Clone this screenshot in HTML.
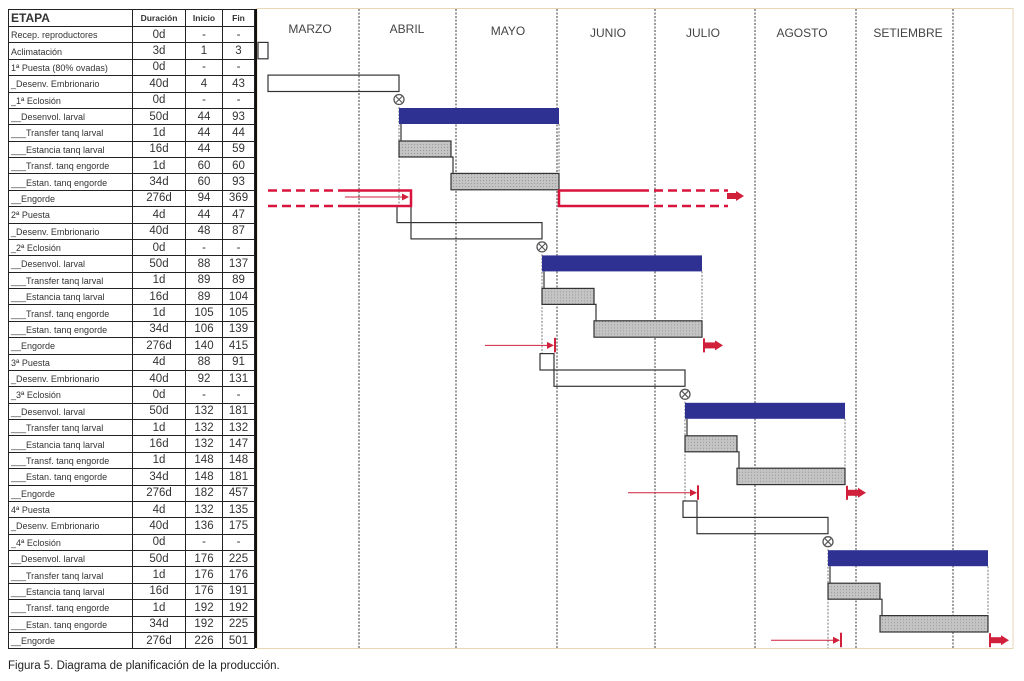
<!DOCTYPE html>
<html><head><meta charset="utf-8"><style>
body{margin:0;width:1024px;height:681px;background:#fff;overflow:hidden;position:relative;font-family:"Liberation Sans",sans-serif}
table{position:absolute;left:8px;top:9px;border-collapse:collapse;table-layout:fixed}
td{border:1px solid #222;height:15.38px;padding:0;font-size:9px;color:#333;white-space:nowrap;overflow:hidden;line-height:14px;vertical-align:middle}
td.n{text-align:center;font-size:11.5px;color:#333}
tr.h td{height:16px;font-size:8.5px;text-align:center;font-weight:bold}
tr.h td.e{font-size:12px;text-align:left;padding-left:2px}
td.l{padding-left:2px;padding-top:1px;height:14.38px}
.cap{position:absolute;left:8px;top:660px;font-size:11.5px;color:#222}
svg{position:absolute;left:0;top:0}
</style></head><body>
<svg width="1024" height="681">
<rect x="257" y="8.5" width="756" height="640" fill="none" stroke="#e6d6b4" stroke-width="1"/>
<g stroke="#666" stroke-width="1.3" stroke-dasharray="2,1.5">
<line x1="359" y1="9" x2="359" y2="648"/><line x1="456" y1="9" x2="456" y2="648"/><line x1="557" y1="9" x2="557" y2="648"/><line x1="655" y1="9" x2="655" y2="648"/><line x1="755" y1="9" x2="755" y2="648"/><line x1="856" y1="9" x2="856" y2="648"/><line x1="953" y1="9" x2="953" y2="648"/>
</g>
<g font-size="12" fill="#444" text-anchor="middle">
<text x="310" y="33">MARZO</text><text x="407" y="33">ABRIL</text><text x="508" y="35">MAYO</text><text x="608" y="37">JUNIO</text><text x="703" y="37">JULIO</text><text x="802" y="37">AGOSTO</text><text x="908" y="37">SETIEMBRE</text>
</g>
<line x1="255.5" y1="9" x2="255.5" y2="648" stroke="#111" stroke-width="3"/>
<defs>
<pattern id="h" width="3" height="3" patternUnits="userSpaceOnUse"><rect width="3" height="3" fill="#c4c4c4"/><rect width="1" height="1" fill="#9a9a9a"/></pattern>
<g id="core">
<line x1="399" y1="107" x2="399" y2="206" stroke="#777" stroke-dasharray="2,1.5"/>
<line x1="559" y1="124" x2="559" y2="190" stroke="#777" stroke-dasharray="2,1.5"/>
<rect x="399" y="108" width="160" height="16" fill="#2e3192"/>
<line x1="401" y1="124" x2="401" y2="141" stroke="#333" stroke-width="1.2"/>
<rect x="399" y="141" width="52" height="16" fill="url(#h)" stroke="#333" stroke-width="1.2"/>
<polyline points="451,157 453,157 453,173" fill="none" stroke="#333" stroke-width="1.2"/>
<rect x="451" y="173.4" width="108" height="16.4" fill="url(#h)" stroke="#333" stroke-width="1.2"/>
<circle cx="399" cy="99.5" r="5" fill="#fff" stroke="#555" stroke-width="1.3"/>
<path d="M396,96.5L402,102.5M402,96.5L396,102.5" stroke="#555" stroke-width="1.1"/>
</g>
<g id="eng">
<line x1="342" y1="198" x2="405" y2="198" stroke="#d0203c" stroke-width="1"/>
<path d="M404,194.5L411,198L404,201.5Z" fill="#d0203c"/>
<line x1="412" y1="190.5" x2="412" y2="205" stroke="#d0203c" stroke-width="2"/>
<line x1="561" y1="191" x2="561" y2="205" stroke="#d0203c" stroke-width="2"/>
<rect x="561" y="195" width="12" height="6" fill="#d0203c"/>
<path d="M572,193L580,198L572,203Z" fill="#d0203c"/>
</g>
<g id="pd">
<rect x="397" y="206.2" width="14" height="16.4" fill="none" stroke="#333" stroke-width="1.2"/>
<rect x="411" y="222.6" width="131" height="16.3" fill="none" stroke="#333" stroke-width="1.2"/>
</g>
</defs>
<rect x="258" y="42.4" width="10" height="16.4" fill="none" stroke="#333" stroke-width="1.2"/>
<rect x="268" y="75.1" width="131" height="16.4" fill="none" stroke="#333" stroke-width="1.2"/>
<use href="#core"/>
<use href="#core" transform="translate(143,147.4)"/>
<use href="#core" transform="translate(286,294.8)"/>
<use href="#core" transform="translate(429,442.2)"/>
<use href="#pd"/>
<use href="#pd" transform="translate(143,147.4)"/>
<use href="#pd" transform="translate(286,294.8)"/>
<use href="#eng" transform="translate(143,147.4)"/>
<use href="#eng" transform="translate(286,294.8)"/>
<use href="#eng" transform="translate(429,442.2)"/>
<g stroke="#d8143c" stroke-width="2.5" fill="none">
<path d="M268,190.5H345M268,206H345" stroke-dasharray="9,5"/>
<path d="M345,190.5H411V206H345"/>
<path d="M640,190.5H559V206H640"/>
<path d="M640,190.5H728M640,206H728" stroke-dasharray="9,5"/>
</g>
<line x1="345" y1="197" x2="404" y2="197" stroke="#d0203c" stroke-width="1"/>
<path d="M402,193.5L409,197L402,200.5Z" fill="#d0203c"/>
<rect x="727" y="193" width="10" height="6" fill="#d0203c"/>
<path d="M736,191L744,196L736,201Z" fill="#d0203c"/>
</svg>
<table>
<colgroup><col style="width:124px"><col style="width:53px"><col style="width:37px"><col style="width:32px"></colgroup>
<tr class="h"><td class="e">ETAPA</td><td>Duración</td><td>Inicio</td><td>Fin</td></tr>
<tr><td class="l">Recep. reproductores</td><td class="n">0d</td><td class="n">-</td><td class="n">-</td></tr>
<tr><td class="l">Aclimatación</td><td class="n">3d</td><td class="n">1</td><td class="n">3</td></tr>
<tr><td class="l">1ª Puesta (80% ovadas)</td><td class="n">0d</td><td class="n">-</td><td class="n">-</td></tr>
<tr><td class="l">_Desenv. Embrionario</td><td class="n">40d</td><td class="n">4</td><td class="n">43</td></tr>
<tr><td class="l">_1ª Eclosión</td><td class="n">0d</td><td class="n">-</td><td class="n">-</td></tr>
<tr><td class="l">__Desenvol. larval</td><td class="n">50d</td><td class="n">44</td><td class="n">93</td></tr>
<tr><td class="l">___Transfer tanq larval</td><td class="n">1d</td><td class="n">44</td><td class="n">44</td></tr>
<tr><td class="l">___Estancia tanq larval</td><td class="n">16d</td><td class="n">44</td><td class="n">59</td></tr>
<tr><td class="l">___Transf. tanq engorde</td><td class="n">1d</td><td class="n">60</td><td class="n">60</td></tr>
<tr><td class="l">___Estan. tanq engorde</td><td class="n">34d</td><td class="n">60</td><td class="n">93</td></tr>
<tr><td class="l">__Engorde</td><td class="n">276d</td><td class="n">94</td><td class="n">369</td></tr>
<tr><td class="l">2ª Puesta</td><td class="n">4d</td><td class="n">44</td><td class="n">47</td></tr>
<tr><td class="l">_Desenv. Embrionario</td><td class="n">40d</td><td class="n">48</td><td class="n">87</td></tr>
<tr><td class="l">_2ª Eclosión</td><td class="n">0d</td><td class="n">-</td><td class="n">-</td></tr>
<tr><td class="l">__Desenvol. larval</td><td class="n">50d</td><td class="n">88</td><td class="n">137</td></tr>
<tr><td class="l">___Transfer tanq larval</td><td class="n">1d</td><td class="n">89</td><td class="n">89</td></tr>
<tr><td class="l">___Estancia tanq larval</td><td class="n">16d</td><td class="n">89</td><td class="n">104</td></tr>
<tr><td class="l">___Transf. tanq engorde</td><td class="n">1d</td><td class="n">105</td><td class="n">105</td></tr>
<tr><td class="l">___Estan. tanq engorde</td><td class="n">34d</td><td class="n">106</td><td class="n">139</td></tr>
<tr><td class="l">__Engorde</td><td class="n">276d</td><td class="n">140</td><td class="n">415</td></tr>
<tr><td class="l">3ª Puesta</td><td class="n">4d</td><td class="n">88</td><td class="n">91</td></tr>
<tr><td class="l">_Desenv. Embrionario</td><td class="n">40d</td><td class="n">92</td><td class="n">131</td></tr>
<tr><td class="l">_3ª Eclosión</td><td class="n">0d</td><td class="n">-</td><td class="n">-</td></tr>
<tr><td class="l">__Desenvol. larval</td><td class="n">50d</td><td class="n">132</td><td class="n">181</td></tr>
<tr><td class="l">___Transfer tanq larval</td><td class="n">1d</td><td class="n">132</td><td class="n">132</td></tr>
<tr><td class="l">___Estancia tanq larval</td><td class="n">16d</td><td class="n">132</td><td class="n">147</td></tr>
<tr><td class="l">___Transf. tanq engorde</td><td class="n">1d</td><td class="n">148</td><td class="n">148</td></tr>
<tr><td class="l">___Estan. tanq engorde</td><td class="n">34d</td><td class="n">148</td><td class="n">181</td></tr>
<tr><td class="l">__Engorde</td><td class="n">276d</td><td class="n">182</td><td class="n">457</td></tr>
<tr><td class="l">4ª Puesta</td><td class="n">4d</td><td class="n">132</td><td class="n">135</td></tr>
<tr><td class="l">_Desenv. Embrionario</td><td class="n">40d</td><td class="n">136</td><td class="n">175</td></tr>
<tr><td class="l">_4ª Eclosión</td><td class="n">0d</td><td class="n">-</td><td class="n">-</td></tr>
<tr><td class="l">__Desenvol. larval</td><td class="n">50d</td><td class="n">176</td><td class="n">225</td></tr>
<tr><td class="l">___Transfer tanq larval</td><td class="n">1d</td><td class="n">176</td><td class="n">176</td></tr>
<tr><td class="l">___Estancia tanq larval</td><td class="n">16d</td><td class="n">176</td><td class="n">191</td></tr>
<tr><td class="l">___Transf. tanq engorde</td><td class="n">1d</td><td class="n">192</td><td class="n">192</td></tr>
<tr><td class="l">___Estan. tanq engorde</td><td class="n">34d</td><td class="n">192</td><td class="n">225</td></tr>
<tr><td class="l">__Engorde</td><td class="n">276d</td><td class="n">226</td><td class="n">501</td></tr>
</table>
<div class="cap">Figura 5. Diagrama de planificación de la producción.</div>
</body></html>
